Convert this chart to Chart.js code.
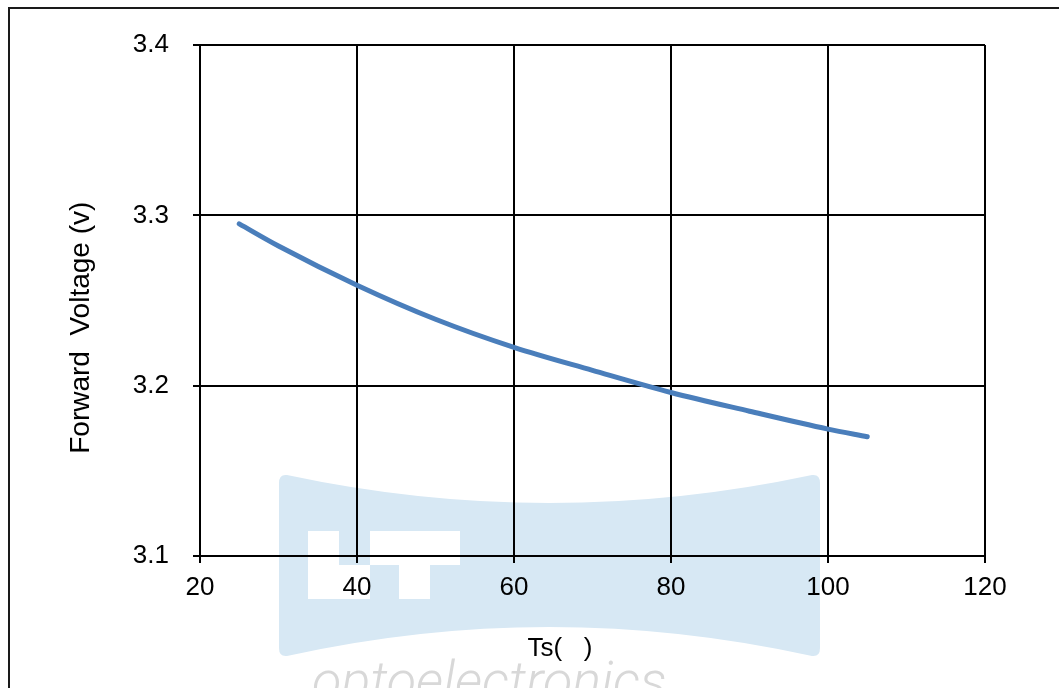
<!DOCTYPE html>
<html>
<head>
<meta charset="utf-8">
<title>Forward Voltage vs Ts</title>
<script src="https://cdn.jsdelivr.net/npm/chart.js@4.4.1/dist/chart.umd.min.js"></script>
<style>
  html, body { margin: 0; padding: 0; background: #fff; overflow: hidden; }
  #wrap { position: relative; width: 1059px; height: 688px; }
  #frame {
    position: absolute; left: 8px; top: 7px; width: 1200px; height: 800px;
    border-left: 2px solid #1a1a1a; border-top: 2px solid #1a1a1a;
    pointer-events: none;
  }
</style>
</head>
<body>
<div id="wrap">
  <canvas id="fvChart" width="1059" height="688"></canvas>
  <div id="frame"></div>
</div>
<script>
const temperature = [25, 30, 40, 50, 60, 70, 80, 90, 100, 105];
const forwardVoltage = [3.295, 3.282, 3.259, 3.239, 3.2225, 3.209, 3.196, 3.185, 3.1745, 3.17];
const xTicks = [20, 40, 60, 80, 100, 120];
const yTicks = ["3.1", "3.2", "3.3", "3.4"];

const FONT = "'Liberation Sans', Arial, sans-serif";

// faded company logo behind the plot
const watermark = {
  id: "watermark",
  beforeDraw(chart) {
    const ctx = chart.ctx;
    ctx.save();
    ctx.fillStyle = "#d7e8f4";
    ctx.beginPath();
    ctx.moveTo(287, 475);
    ctx.quadraticCurveTo(549, 531, 812, 475);
    ctx.quadraticCurveTo(820, 474, 820, 483);
    ctx.lineTo(820, 648);
    ctx.quadraticCurveTo(820, 657, 812, 656);
    ctx.quadraticCurveTo(549, 598, 287, 656);
    ctx.quadraticCurveTo(279, 657, 279, 648);
    ctx.lineTo(279, 483);
    ctx.quadraticCurveTo(279, 474, 287, 475);
    ctx.fill();
    ctx.fillStyle = "#fff";
    ctx.fillRect(308, 531, 31, 68);
    ctx.fillRect(339, 565, 31, 34);
    ctx.fillRect(370, 531, 90, 34);
    ctx.fillRect(399, 565, 31, 34);
    ctx.fillStyle = "#d8d8d8";
    ctx.font = "italic 300 54px Roboto";
    ctx.textBaseline = "alphabetic";
    ctx.fillText("optoelectronics", 312, 699);
    ctx.restore();
  },
};

const ctx = document.getElementById("fvChart");

new Chart(ctx, {
  type: "line",
  data: {
    datasets: [
      {
        label: "Forward Voltage",
        data: temperature.map((t, i) => ({ x: t, y: forwardVoltage[i] })),
        borderColor: "#4a7ebb",
        borderWidth: 5,
        borderCapStyle: "round",
        pointRadius: 0,
        cubicInterpolationMode: "monotone",
        fill: false,
      },
    ],
  },
  options: {
    responsive: false,
    animation: false,
    layout: { padding: { top: 45, right: 74, bottom: 0, left: 0 } },
    plugins: {
      legend: { display: false },
      tooltip: { enabled: false },
    },
    scales: {
      x: {
        type: "linear",
        min: 20,
        max: 120,
        afterBuildTicks: (scale) => {
          scale.ticks = xTicks.map((v) => ({ value: v }));
        },
        afterFit: (scale) => {
          scale.height = 132;
        },
        ticks: {
          color: "#000",
          font: { family: FONT, size: 26 },
          padding: 9,
          maxRotation: 0,
          callback: (v) => String(v),
        },
        grid: { color: "#000", lineWidth: 2, tickLength: 7 },
        border: { color: "#000", width: 2 },
        title: {
          display: true,
          text: "Ts(   )         ",
          color: "#000",
          font: { family: FONT, size: 26 },
          padding: { top: 0, bottom: 24 },
        },
      },
      y: {
        min: 3.1,
        max: 3.4,
        afterBuildTicks: (scale) => {
          scale.ticks = yTicks.map((t) => ({ value: parseFloat(t) }));
        },
        afterFit: (scale) => {
          scale.width = 200;
        },
        ticks: {
          color: "#000",
          font: { family: FONT, size: 26 },
          padding: 24,
          callback: (v) => yTicks.find((t) => Math.abs(parseFloat(t) - v) < 1e-6),
        },
        grid: { color: "#000", lineWidth: 2, tickLength: 7 },
        border: { color: "#000", width: 2 },
        title: {
          display: true,
          text: "Forward  Voltage (v)       ",
          color: "#000",
          font: { family: FONT, size: 28 },
          padding: { top: 64, bottom: 0 },
        },
      },
    },
  },
  plugins: [watermark],
});
</script>
</body>
</html>
